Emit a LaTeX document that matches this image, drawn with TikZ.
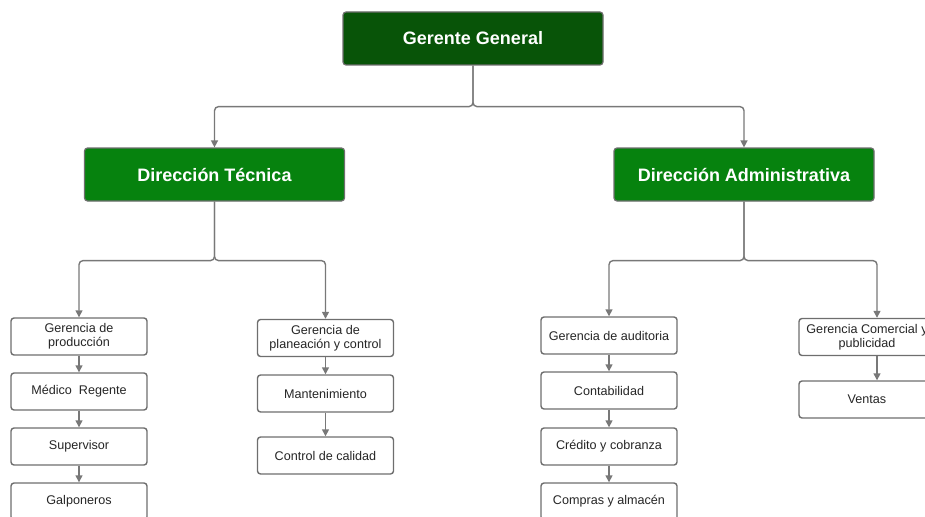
\documentclass[tikz,border=0pt]{standalone}
\usepackage{fontspec}
\setmainfont{Liberation Sans}
\usetikzlibrary{arrows.meta}
\definecolor{topgreen}{RGB}{8,84,8}
\definecolor{midgreen}{RGB}{6,130,14}
\definecolor{linegray}{RGB}{120,120,120}
\definecolor{boxgray}{RGB}{110,110,110}
\begin{document}
\begin{tikzpicture}[x=1pt,y=-1pt,
  conn/.style={draw=linegray,line width=1.4pt,rounded corners=4pt,
    -{Triangle[width=7pt,length=7pt]}},
  head/.style={draw=boxgray,line width=1.2pt,rounded corners=3pt,fill=topgreen,
    text=white,font=\fontsize{18}{20}\selectfont\bfseries,
    minimum width=260pt,minimum height=53pt},
  dir/.style={head,fill=midgreen},
  unit/.style={draw=boxgray,line width=1.4pt,rounded corners=3pt,fill=white,
    text=black!85,font=\fontsize{12.6}{14}\selectfont,align=center,
    minimum width=136pt,minimum height=37pt,inner sep=1pt}
  ]
\useasboundingbox (0,0) rectangle (925,516);
% top level
\node[head] (G) at (473,38.5) {Gerente General};
\node[dir] (T) at (214.5,174.5) {Dirección Técnica};
\node[dir] (A) at (744,174.5) {Dirección Administrativa};
% technical side
\node[unit] (T1) at (79,336.5) {Gerencia de\\producción};
\node[unit] (T1a) at (79,391.5) {Médico\ \ Regente};
\node[unit] (T1b) at (79,446.5) {Supervisor};
\node[unit] (T1c) at (79,501.5) {Galponeros};
\node[unit] (T2) at (325.5,338) {Gerencia de\\planeación y control};
\node[unit] (T2a) at (325.5,393.5) {Mantenimiento};
\node[unit] (T2b) at (325.5,455.5) {Control de calidad};
% administrative side
\node[unit] (A1) at (609,335.5) {Gerencia de auditoria};
\node[unit] (A1a) at (609,390.5) {Contabilidad};
\node[unit] (A1b) at (609,446.5) {Crédito y cobranza};
\node[unit] (A1c) at (609,501.5) {Compras y almacén};
\node[unit] (A2) at (867,337) {Gerencia Comercial y\\publicidad};
\node[unit] (A2a) at (867,399.5) {Ventas};
% connectors
\draw[conn] (G.south) -- ++(0,41) -| (T.north);
\draw[conn] (G.south) -- ++(0,41) -| (A.north);
\draw[conn] (T.south) -- ++(0,59) -| (T1.north);
\draw[conn] (T.south) -- ++(0,59) -| (T2.north);
\draw[conn] (A.south) -- ++(0,59) -| (A1.north);
\draw[conn] (A.south) -- ++(0,59) -| ([xshift=10pt]A2.north);
\draw[conn] (T1.south) -- (T1a.north);
\draw[conn] (T1a.south) -- (T1b.north);
\draw[conn] (T1b.south) -- (T1c.north);
\draw[conn] (T2.south) -- (T2a.north);
\draw[conn] (T2a.south) -- (T2b.north);
\draw[conn] (A1.south) -- (A1a.north);
\draw[conn] (A1a.south) -- (A1b.north);
\draw[conn] (A1b.south) -- (A1c.north);
\draw[conn] ([xshift=10pt]A2.south) -- ([xshift=10pt]A2a.north);
\end{tikzpicture}
\end{document}
